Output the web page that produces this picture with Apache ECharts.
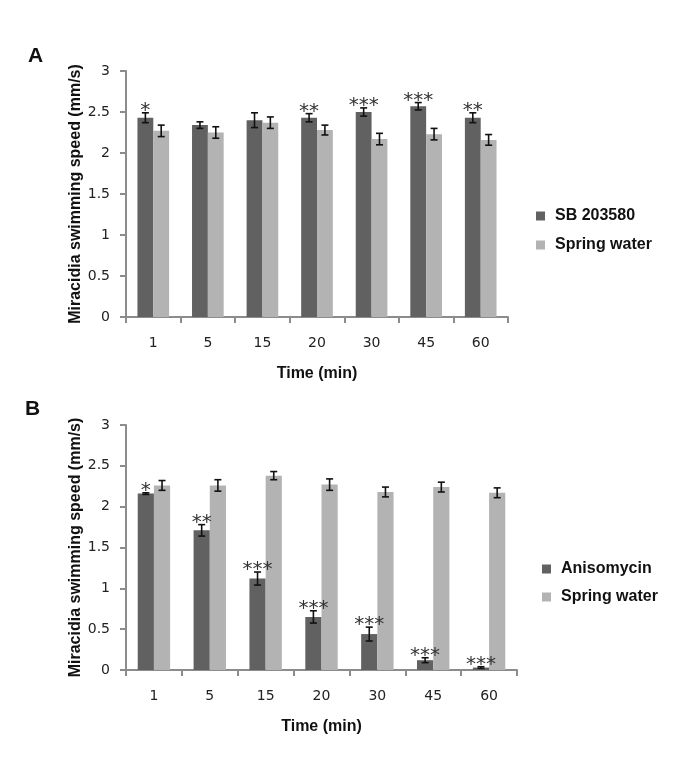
<!DOCTYPE html>
<html>
<head>
<meta charset="utf-8">
<script src="https://cdn.jsdelivr.net/npm/echarts@6/dist/echarts.min.js"></script>
<style>html,body{margin:0;padding:0;background:#fff;}#c{width:685px;height:760px;}</style>
</head>
<body>
<div id="c"></div>
<script>
var categories = ['1', '5', '15', '20', '30', '45', '60'];
var yTicks = ['0', '0.5', '1', '1.5', '2', '2.5', '3'];

var sbValues = [2.43, 2.34, 2.40, 2.43, 2.50, 2.57, 2.43];
var sbErrors = [0.06, 0.04, 0.09, 0.05, 0.05, 0.045, 0.06];
var springA = [2.27, 2.25, 2.37, 2.28, 2.17, 2.23, 2.16];
var springAErr = [0.07, 0.07, 0.07, 0.06, 0.07, 0.07, 0.065];
var starsA = ['*', '', '', '**', '***', '***', '**'];

var anisoValues = [2.16, 1.71, 1.12, 0.65, 0.44, 0.12, 0.03];
var anisoErrors = [0.01, 0.07, 0.08, 0.075, 0.085, 0.03, 0.01];
var springB = [2.26, 2.26, 2.38, 2.27, 2.18, 2.24, 2.17];
var springBErr = [0.06, 0.07, 0.05, 0.07, 0.06, 0.06, 0.06];
var starsB = ['*', '**', '***', '***', '***', '***', '***'];

var DARK = '#616161', LIGHT = '#b3b3b3', AXIS = '#8c8c8c';
var GAP = 0.42;

function errData(v1, e1, v2, e2) {
  return v1.map(function (v, i) { return [i, v, e1[i], v2[i], e2[i]]; });
}

function makeRender(stars) {
  return function (params, api) {
    var i = api.value(0);
    var band = api.size([1, 0])[0];
    var bw = band * (1 - GAP) / 2;
    var cx = api.coord([i, 0])[0];
    var children = [];
    var cap = 3.5;
    var style = { stroke: '#111', lineWidth: 1.6 };
    [[api.value(1), api.value(2), cx - bw / 2], [api.value(3), api.value(4), cx + bw / 2]].forEach(function (s) {
      var top = api.coord([i, s[0] + s[1]])[1];
      var bot = api.coord([i, s[0] - s[1]])[1];
      var x = s[2];
      children.push({ type: 'line', shape: { x1: x, y1: top, x2: x, y2: bot }, style: style });
      children.push({ type: 'line', shape: { x1: x - cap, y1: top, x2: x + cap, y2: top }, style: style });
      children.push({ type: 'line', shape: { x1: x - cap, y1: bot, x2: x + cap, y2: bot }, style: style });
    });
    var st = stars[params.dataIndex];
    if (st) {
      var topD = api.coord([i, api.value(1) + api.value(2)])[1];
      children.push({
        type: 'text',
        style: {
          text: st, x: cx - bw / 2, y: topD - 2,
          align: 'center', verticalAlign: 'middle',
          font: '20px "DejaVu Sans"', fill: '#333'
        }
      });
    }
    return { type: 'group', children: children };
  };
}

function xAxisDef(gi, gap) {
  return {
    type: 'category', gridIndex: gi, data: categories,
    axisLine: { lineStyle: { color: AXIS, width: 2 } },
    axisTick: { show: true, length: 6, lineStyle: { color: AXIS, width: 2 } },
    axisLabel: { margin: 19, fontSize: 14, color: '#222', fontFamily: 'DejaVu Sans' },
    name: 'Time (min)', nameLocation: 'middle', nameGap: gap,
    nameTextStyle: { fontSize: 16, fontWeight: 'bold', color: '#111', fontFamily: 'Liberation Sans' }
  };
}
function yAxisDef(gi) {
  return {
    type: 'value', gridIndex: gi, min: 0, max: 3, interval: 0.5,
    splitLine: { show: false },
    axisLine: { show: true, lineStyle: { color: AXIS, width: 2 } },
    axisTick: { show: true, length: 6, lineStyle: { color: AXIS, width: 2 } },
    axisLabel: { margin: 16, fontSize: 14, color: '#222', fontFamily: 'DejaVu Sans',
      formatter: function (v) { return yTicks[Math.round(v * 2)]; } },
    name: 'Miracidia swimming speed (mm/s)', nameLocation: 'middle', nameGap: 42,
    nameMoveOverlap: false,
    nameTextStyle: { fontSize: 16, fontWeight: 'bold', color: '#111', fontFamily: 'Liberation Sans' }
  };
}

var legendText = { fontSize: 16, fontWeight: 'bold', color: '#111', fontFamily: 'Liberation Sans', padding: [0, 0, 0, 5] };

var option = {
  animation: false,
  backgroundColor: '#fff',
  title: [
    { text: 'A', left: 23, top: 41, textStyle: { fontSize: 21, fontWeight: 'bold', color: '#111', fontFamily: 'Liberation Sans' } },
    { text: 'B', left: 20, top: 394, textStyle: { fontSize: 21, fontWeight: 'bold', color: '#111', fontFamily: 'Liberation Sans' } }
  ],
  legend: [
    { orient: 'vertical', left: 531, top: 203, itemWidth: 9, itemHeight: 9, itemGap: 13, icon: 'rect',
      data: ['SB 203580', 'Spring water'], textStyle: legendText },
    { orient: 'vertical', left: 537, top: 556, itemWidth: 9, itemHeight: 9, itemGap: 12, icon: 'rect',
      data: ['Anisomycin', { name: 'Spring water ' }], textStyle: legendText }
  ],
  grid: [
    { left: 126, top: 71, width: 382, height: 246 },
    { left: 126, top: 425, width: 391, height: 245 }
  ],
  xAxis: [xAxisDef(0, 49), xAxisDef(1, 49)],
  yAxis: [yAxisDef(0), yAxisDef(1)],
  series: [
    { name: 'SB 203580', type: 'bar', xAxisIndex: 0, yAxisIndex: 0, data: sbValues,
      itemStyle: { color: DARK }, barGap: '0%', barCategoryGap: (GAP * 100) + '%' },
    { name: 'Spring water', type: 'bar', xAxisIndex: 0, yAxisIndex: 0, data: springA,
      itemStyle: { color: LIGHT }, barGap: '0%', barCategoryGap: (GAP * 100) + '%' },
    { type: 'custom', xAxisIndex: 0, yAxisIndex: 0, z: 10, renderItem: makeRender(starsA),
      encode: { x: 0, y: 1 }, data: errData(sbValues, sbErrors, springA, springAErr) },
    { name: 'Anisomycin', type: 'bar', xAxisIndex: 1, yAxisIndex: 1, data: anisoValues,
      itemStyle: { color: DARK }, barGap: '0%', barCategoryGap: (GAP * 100) + '%' },
    { name: 'Spring water ', type: 'bar', xAxisIndex: 1, yAxisIndex: 1, data: springB,
      itemStyle: { color: LIGHT }, barGap: '0%', barCategoryGap: (GAP * 100) + '%' },
    { type: 'custom', xAxisIndex: 1, yAxisIndex: 1, z: 10, renderItem: makeRender(starsB),
      encode: { x: 0, y: 1 }, data: errData(anisoValues, anisoErrors, springB, springBErr) }
  ]
};

var chart = echarts.init(document.getElementById('c'), null, { renderer: 'canvas' });
chart.setOption(option);
</script>
</body>
</html>
